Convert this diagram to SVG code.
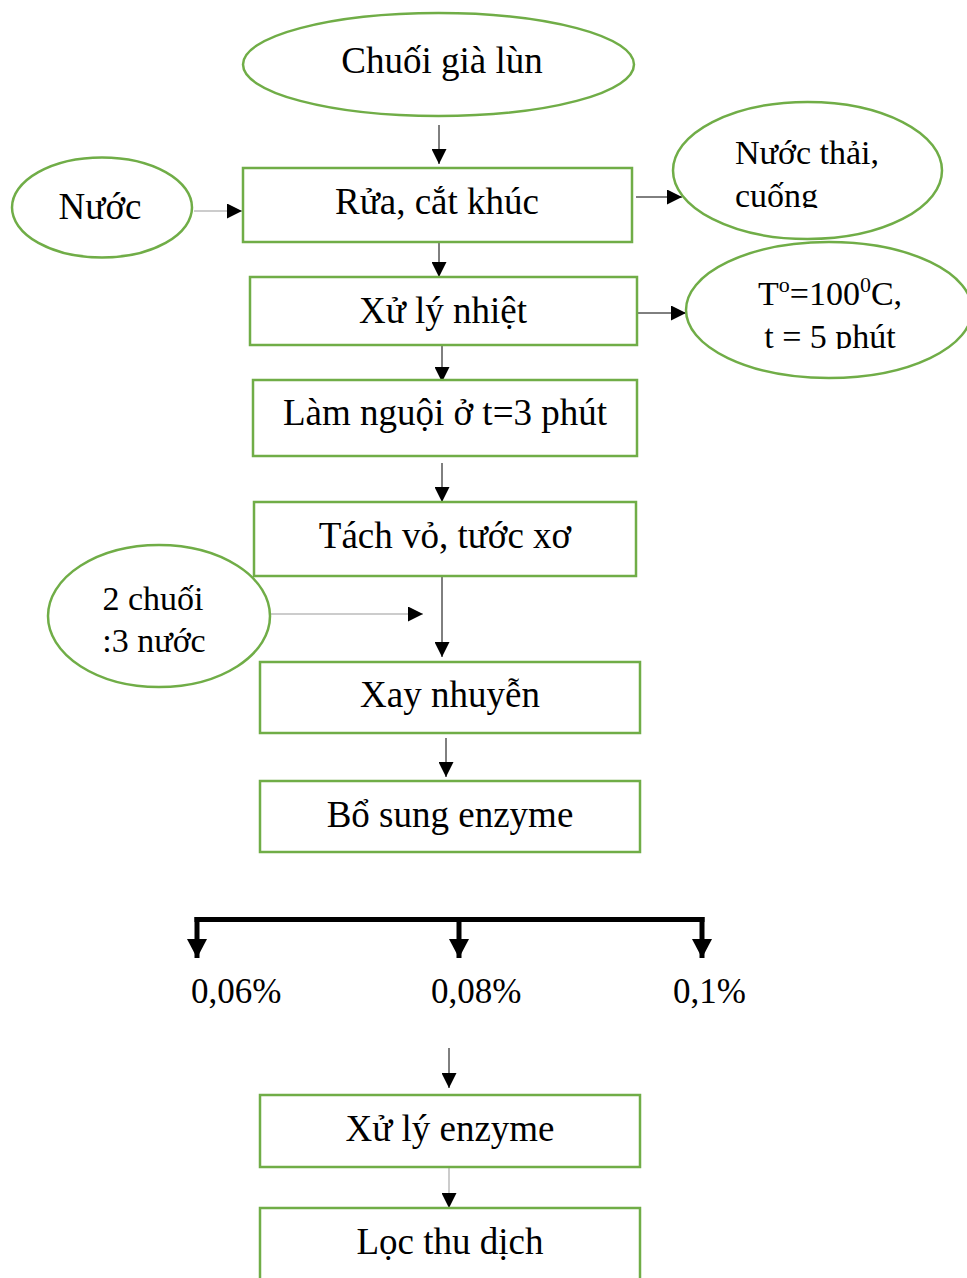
<svg xmlns="http://www.w3.org/2000/svg" width="967" height="1278" viewBox="0 0 967 1278">
  <style>
    .node { fill: #ffffff; stroke: #70AD47; stroke-width: 2.5; }
    .t { font-family: "Liberation Serif", "Times New Roman", serif; font-size: 37px; fill: #000000; }
    .ts { font-family: "Liberation Serif", "Times New Roman", serif; font-size: 34px; fill: #000000; }
    .tp { font-family: "Liberation Serif", "Times New Roman", serif; font-size: 35px; fill: #000000; }
    .link { stroke: #000000; stroke-width: 1; fill: none; marker-end: url(#arrow); }
    .link.grey { stroke: #999999; }
    .fork { stroke: #000000; stroke-width: 5; fill: none; }
  </style>
  <defs>
    <marker id="arrow" markerUnits="userSpaceOnUse" markerWidth="15" markerHeight="15" refX="15" refY="7.5" orient="auto">
      <path d="M0,0 L15,7.5 L0,15 Z" fill="#000000"/>
    </marker>
    <marker id="bigArrow" markerUnits="userSpaceOnUse" markerWidth="20" markerHeight="20" refX="19" refY="10" orient="auto">
      <path d="M0,0 L19,10 L0,20 Z" fill="#000000"/>
    </marker>
    <clipPath id="clipWaste"><rect x="700" y="110" width="240" height="98"/></clipPath>
    <clipPath id="clipHeat"><rect x="700" y="255" width="260" height="94"/></clipPath>
  </defs>

  <rect width="967" height="1278" fill="#ffffff"/>

  <!-- connectors -->
  <g id="connectors">
    <line class="link" x1="439" y1="125" x2="439" y2="164"/>
    <line class="link grey" x1="194" y1="211" x2="242" y2="211"/>
    <line class="link" x1="636" y1="197" x2="682" y2="197"/>
    <line class="link" x1="439" y1="242" x2="439" y2="277"/>
    <line class="link" x1="637" y1="313" x2="686" y2="313"/>
    <line class="link" x1="442" y1="345" x2="442" y2="382"/>
    <line class="link" x1="442" y1="463" x2="442" y2="502"/>
    <line class="link" x1="442" y1="577" x2="442" y2="657"/>
    <line class="link grey" x1="271" y1="614" x2="423" y2="614"/>
    <line class="link" x1="446" y1="738" x2="446" y2="777"/>
    <line class="fork" x1="194.5" y1="919.5" x2="704.5" y2="919.5"/>
    <line class="fork" x1="197" y1="917" x2="197" y2="958" marker-end="url(#bigArrow)"/>
    <line class="fork" x1="459" y1="917" x2="459" y2="958" marker-end="url(#bigArrow)"/>
    <line class="fork" x1="702" y1="917" x2="702" y2="958" marker-end="url(#bigArrow)"/>
    <line class="link" x1="449" y1="1048" x2="449" y2="1088"/>
    <line class="link grey" x1="449" y1="1168" x2="449" y2="1208"/>
  </g>

  <!-- raw material -->
  <g id="n-banana">
    <ellipse class="node" cx="438.5" cy="64.5" rx="195.5" ry="51.5"/>
    <text class="t" x="442" y="73" text-anchor="middle">Chuối già lùn</text>
  </g>

  <g id="n-water">
    <ellipse class="node" cx="102" cy="207.5" rx="90" ry="50"/>
    <text class="t" x="100" y="219" text-anchor="middle">Nước</text>
  </g>

  <g id="n-wash">
    <rect class="node" x="243" y="168" width="389" height="74"/>
    <text class="t" x="437" y="214" text-anchor="middle">Rửa, cắt khúc</text>
  </g>

  <g id="n-waste">
    <ellipse class="node" cx="807.5" cy="170.5" rx="134.5" ry="68.5"/>
    <g clip-path="url(#clipWaste)">
      <text class="ts" x="735" y="164">Nước thải,</text>
      <text class="ts" x="735" y="207">cuống</text>
    </g>
  </g>

  <g id="n-heat">
    <rect class="node" x="250" y="277" width="387" height="68"/>
    <text class="t" x="443" y="323" text-anchor="middle">Xử lý nhiệt</text>
  </g>

  <g id="n-heat-cond">
    <ellipse class="node" cx="829" cy="310" rx="143" ry="68"/>
    <g clip-path="url(#clipHeat)">
      <text class="ts" x="830" y="305" text-anchor="middle">T<tspan font-size="22" dy="-13">o</tspan><tspan dy="13">=100</tspan><tspan font-size="22" dy="-13">0</tspan><tspan dy="13">C,</tspan></text>
      <text class="ts" x="830" y="348" text-anchor="middle">t = 5 phút</text>
    </g>
  </g>

  <g id="n-cool">
    <rect class="node" x="253" y="380" width="384" height="76"/>
    <text class="t" x="445" y="425" text-anchor="middle">Làm nguội ở t=3 phút</text>
  </g>

  <g id="n-peel">
    <rect class="node" x="254" y="502" width="382" height="74"/>
    <text class="t" x="445" y="548" text-anchor="middle">Tách vỏ, tước xơ</text>
  </g>

  <g id="n-ratio">
    <ellipse class="node" cx="159" cy="616" rx="111" ry="71"/>
    <text class="ts" x="153" y="610" text-anchor="middle">2 chuối</text>
    <text class="ts" x="154" y="652" text-anchor="middle">:3 nước</text>
  </g>

  <g id="n-blend">
    <rect class="node" x="260" y="662" width="380" height="71"/>
    <text class="t" x="450" y="707" text-anchor="middle">Xay nhuyễn</text>
  </g>

  <g id="n-enzyme-add">
    <rect class="node" x="260" y="781" width="380" height="71"/>
    <text class="t" x="450" y="827" text-anchor="middle">Bổ sung enzyme</text>
  </g>

  <!-- enzyme dosage levels -->
  <g id="n-levels">
    <text class="tp" x="191" y="1003">0,06%</text>
    <text class="tp" x="431" y="1003">0,08%</text>
    <text class="tp" x="673" y="1003">0,1%</text>
  </g>

  <g id="n-enzyme-treat">
    <rect class="node" x="260" y="1095" width="380" height="72"/>
    <text class="t" x="450" y="1141" text-anchor="middle">Xử lý enzyme</text>
  </g>

  <g id="n-filter">
    <rect class="node" x="260" y="1208" width="380" height="90"/>
    <text class="t" x="450" y="1254" text-anchor="middle">Lọc thu dịch</text>
  </g>
</svg>
